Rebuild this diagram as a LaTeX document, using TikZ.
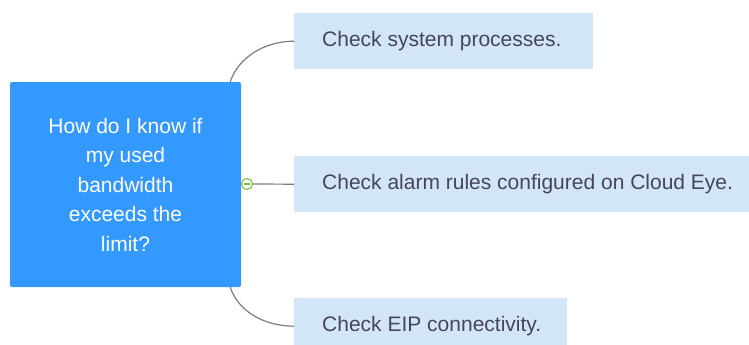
\documentclass[tikz,border=0pt]{standalone}
\usepackage{fontspec}
\setmainfont{Liberation Sans}
\definecolor{mainblue}{RGB}{51,153,255}
\definecolor{subblue}{RGB}{211,229,248}
\definecolor{subtext}{RGB}{70,70,90}
\definecolor{linegray}{RGB}{125,125,125}
\definecolor{knobgreen}{RGB}{120,190,60}
\newcommand{\subtxt}[2]{\makebox[#1][l]{\hspace{28pt}#2}}
\begin{document}
\begin{tikzpicture}[x=1pt,y=-1pt,
  topic/.style={fill=mainblue, rounded corners=2pt, text=white, align=center,
    font=\fontsize{21}{29.5}\selectfont, inner sep=0pt,
    minimum width=231pt, minimum height=205pt},
  subbox/.style={fill=subblue, text=subtext, anchor=north west,
    font=\fontsize{21}{25}\selectfont, inner sep=0pt,
    minimum height=56pt},
  conn/.style={draw=linegray, line width=1.2pt},
  knob/.style={circle, draw=knobgreen, fill=white, line width=1.1pt,
    minimum size=11pt, inner sep=0pt}]
\clip (0,0) rectangle (749,345);
\fill[white] (0,0) rectangle (749,345);
\node[topic] (main) at (125.5,184.5) {How do I know if\\my used\\bandwidth\\exceeds the\\limit?};
\node[subbox] (s1) at (294,13) {\subtxt{299pt}{Check system processes.}};
\node[subbox] (s2) at (294,156) {\subtxt{460pt}{Check alarm rules configured on Cloud Eye.}};
\node[subbox] (s3) at (294,298) {\subtxt{273pt}{Check EIP connectivity.}};
\node[knob] (k) at (247,184) {};
\draw[knobgreen, line width=1.5pt] ([xshift=-3pt]k.center) -- ([xshift=3pt]k.center);
\draw[conn] (k.east) -- (s2.west);
\draw[conn] ([xshift=-11pt]main.north east) .. controls +(8,-24) and +(-30,0) .. (s1.west);
\draw[conn] ([xshift=-11pt]main.south east) .. controls +(8,24) and +(-30,0) .. (s3.west);
\end{tikzpicture}
\end{document}
